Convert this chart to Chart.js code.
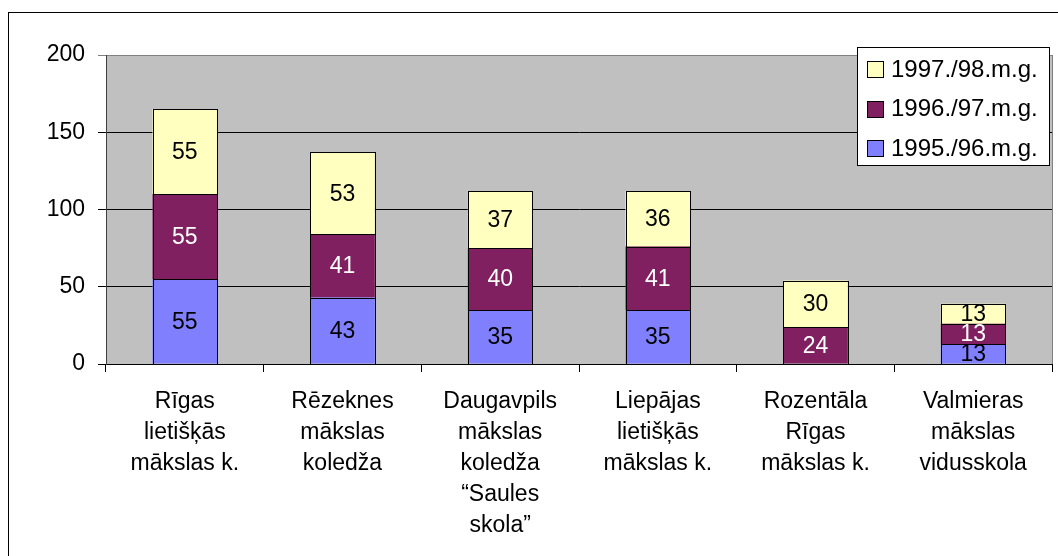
<!DOCTYPE html>
<html>
<head>
<meta charset="utf-8">
<script src="https://cdn.jsdelivr.net/npm/chart.js@4/dist/chart.umd.min.js"></script>
<style>
  html, body { margin: 0; padding: 0; background: #fff; }
  #grafiks { display: block; }
</style>
</head>
<body>
<canvas id="grafiks" width="1058" height="556"></canvas>
<script>
// skolas (kategorijas) un audzēkņu skaits pa mācību gadiem
const skolas = [
  ['Rīgas', 'lietišķās', 'mākslas k.'],
  ['Rēzeknes', 'mākslas', 'koledža'],
  ['Daugavpils', 'mākslas', 'koledža', '“Saules', 'skola”'],
  ['Liepājas', 'lietišķās', 'mākslas k.'],
  ['Rozentāla', 'Rīgas', 'mākslas k.'],
  ['Valmieras', 'mākslas', 'vidusskola']
];
const gadi = ['1995./96.m.g.', '1996./97.m.g.', '1997./98.m.g.'];
const gads9596 = [55, 43, 35, 35, null, 13];
const gads9697 = [55, 41, 40, 41, 24, 13];
const gads9798 = [55, 53, 37, 36, 30, 13];
const yTicks = [0, 50, 100, 150, 200];

const krasas = ['#8080FF', '#802060', '#FFFFC0'];
const fonts = '"Liberation Sans", Arial, sans-serif';

// pelēkais fons zīmēšanas laukumam + ārējais rāmis
const fonaPlugin = {
  id: 'fons',
  beforeDraw(chart) {
    const { ctx, chartArea: a } = chart;
    ctx.save();
    ctx.strokeStyle = '#000';
    ctx.lineWidth = 1;
    ctx.strokeRect(8.5, 12.5, 1200, 700);
    ctx.fillStyle = '#C0C0C0';
    ctx.fillRect(a.left, a.top, a.right - a.left, a.bottom - a.top);
    ctx.strokeStyle = '#808080';
    ctx.strokeRect(a.left + 0.5, a.top + 0.5, a.right - a.left, a.bottom - a.top);
    ctx.restore();
  }
};

// melnas malas stabiņiem un skaitļi to iekšpusē
const vertibuPlugin = {
  id: 'vertibas',
  afterDatasetsDraw(chart) {
    const ctx = chart.ctx;
    ctx.save();
    ctx.strokeStyle = '#000';
    ctx.lineWidth = 1;
    chart.data.datasets.forEach((ds, i) => {
      chart.getDatasetMeta(i).data.forEach((bar, j) => {
        if (ds.data[j] == null) return;
        const l = Math.round(bar.x - bar.width / 2), r = Math.round(bar.x + bar.width / 2);
        const t = Math.round(Math.min(bar.y, bar.base)), b = Math.round(Math.max(bar.y, bar.base));
        ctx.strokeRect(l + 0.5, t + 0.5, r - l, b - t);
      });
    });
    ctx.font = '23px ' + fonts;
    ctx.textAlign = 'center';
    ctx.textBaseline = 'middle';
    chart.data.datasets.forEach((ds, i) => {
      chart.getDatasetMeta(i).data.forEach((bar, j) => {
        const v = ds.data[j];
        if (v == null) return;
        ctx.fillStyle = i === 1 ? '#fff' : '#000';
        ctx.fillText(String(v), bar.x, (bar.y + bar.base) / 2 + 1);
      });
    });
    ctx.restore();
  }
};

// leģenda ar rāmi augšējā labajā stūrī
const legendaPlugin = {
  id: 'legenda',
  afterDraw(chart) {
    const ctx = chart.ctx;
    ctx.save();
    ctx.fillStyle = '#fff';
    ctx.fillRect(857, 47, 192, 118);
    ctx.strokeStyle = '#000';
    ctx.lineWidth = 1;
    ctx.strokeRect(857.5, 47.5, 192, 118);
    ctx.font = '24px ' + fonts;
    ctx.textBaseline = 'middle';
    const rindas = [2, 1, 0];
    rindas.forEach((di, r) => {
      const y = 69 + r * 39.5;
      const ds = chart.data.datasets[di];
      ctx.fillStyle = ds.backgroundColor;
      ctx.fillRect(867, Math.round(y - 8), 16, 16);
      ctx.strokeRect(867.5, Math.round(y - 8) + 0.5, 16, 16);
      ctx.fillStyle = '#000';
      ctx.fillText(ds.label, 891, y + 1);
    });
    ctx.restore();
  }
};

new Chart(document.getElementById('grafiks'), {
  type: 'bar',
  data: {
    labels: skolas,
    datasets: [
      { label: gadi[0], data: gads9596, backgroundColor: krasas[0] },
      { label: gadi[1], data: gads9697, backgroundColor: krasas[1] },
      { label: gadi[2], data: gads9798, backgroundColor: krasas[2] }
    ].map(d => Object.assign(d, {
      borderWidth: 0,
      categoryPercentage: 1,
      barPercentage: 0.41
    }))
  },
  options: {
    responsive: false,
    animation: false,
    layout: { padding: { top: 55, right: 6, left: 0, bottom: 0 } },
    plugins: {
      legend: { display: false },
      tooltip: { enabled: false }
    },
    scales: {
      x: {
        stacked: true,
        afterFit(s) { s.height = 192; },
        border: { color: '#000' },
        grid: {
          offset: true,
          drawOnChartArea: false,
          tickLength: 8,
          color: '#000'
        },
        ticks: {
          color: '#000',
          padding: 14,
          maxRotation: 0,
          autoSkip: false,
          font: { family: fonts, size: 23, lineHeight: 1.35 }
        }
      },
      y: {
        stacked: true,
        min: 0,
        max: 200,
        afterFit(s) { s.width = 106; },
        afterBuildTicks(s) { s.ticks = yTicks.map(v => ({ value: v })); },
        border: { color: '#404040' },
        grid: {
          tickLength: 8,
          color: c => c.tick && c.tick.value === 200 ? '#808080' : '#000'
        },
        ticks: {
          color: '#000',
          padding: 13,
          font: { family: fonts, size: 23 }
        }
      }
    }
  },
  plugins: [fonaPlugin, vertibuPlugin, legendaPlugin]
});
</script>
</body>
</html>
